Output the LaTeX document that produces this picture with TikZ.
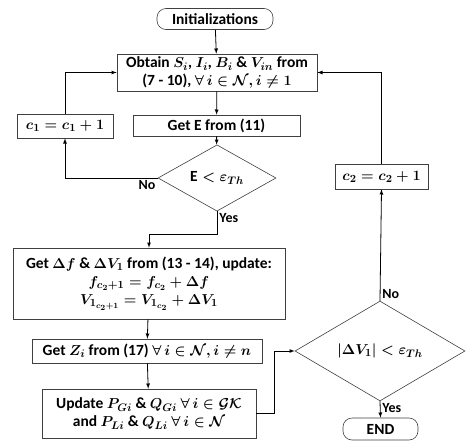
\documentclass[tikz,border=0pt]{standalone}
\usepackage{amsmath,amssymb}
\usepackage{fontspec}
\setmainfont{Carlito}
\usetikzlibrary{shapes,arrows,positioning,calc}

\tikzset{
  procbox/.style={draw=black!75, semithick, fill=white, align=center, inner sep=0.5pt},
  termbox/.style={procbox, rounded corners=9pt},
  testbox/.style={diamond, draw=black!75, semithick, fill=white, inner sep=0pt, align=center},
  flow/.style={->, >=latex, thick},
  lbl/.style={font=\bfseries\fontsize{14}{16}\selectfont, inner sep=2pt}
}

\begin{document}
\begin{tikzpicture}[x=1pt, y=-1pt, font=\bfseries\boldmath\fontsize{15.5}{18}\selectfont]
    \useasboundingbox (0,0) rectangle (466,442);

    % Main column
    \node[termbox, minimum width=116pt, minimum height=21pt] (init) at (215,19) {Initializations};
    \node[procbox, minimum width=200pt, minimum height=37pt] (obtain) at (217,72.5)
        {Obtain $S_i$, $I_i$, $B_i$ \& $V_{in}$ from\\(7 - 10), $\forall\, i \in \mathcal{N}, i \neq 1$};
    \node[procbox, minimum width=167pt, minimum height=21pt] (gete) at (216.5,125.5) {Get E from (11)};
    \node[testbox, minimum width=118pt, minimum height=43pt] (teste) at (217,178) {$\mathrm{E} < \varepsilon_{Th}$};
    \node[procbox, minimum width=96pt, minimum height=24pt] (cone) at (65,126) {$c_1 = c_1 + 1$};

    % Update block
    \node[procbox, minimum width=272pt, minimum height=71pt] (getdf) at (149,283.5)
        {Get $\Delta f$ \& $\Delta V_1$ from (13 - 14), update:\\
         $f_{c_2+1} = f_{c_2} + \Delta f$\\
         $V_{1_{c_2+1}} = V_{1_{c_2}} + \Delta V_1$};
    \node[procbox, minimum width=230pt, minimum height=24pt] (getz) at (147,351)
        {Get $Z_i$ from (17) $\forall\, i \in \mathcal{N}, i \neq n$};
    \node[procbox, minimum width=214pt, minimum height=49pt] (upd) at (149,413.5)
        {Update $P_{Gi}$ \& $Q_{Gi}\ \forall\, i \in \mathcal{GK}$\\
         and $P_{Li}$ \& $Q_{Li}\ \forall\, i \in \mathcal{N}$};

    % Outer loop
    \node[testbox, minimum width=170pt, minimum height=57pt] (testv) at (380,351) {$|\Delta V_1| < \varepsilon_{Th}$};
    \node[procbox, minimum width=93pt, minimum height=25pt] (ctwo) at (381.5,176.5) {$c_2 = c_2 + 1$};
    \node[termbox, minimum width=75pt, minimum height=22pt] (stop) at (380.5,429) {END};

    % Connectors
    \draw[flow] (init) -- (obtain);
    \draw[flow] (obtain) -- (gete);
    \draw[flow] (gete) -- (teste);
    \draw[flow] (teste.west) node[lbl, below left] {No} -| (cone.south);
    \draw[flow] (cone.north) |- (obtain.west);
    \draw[flow] (teste.south) node[lbl, below right] {Yes} -- ++(0,23) -| (getdf.north);
    \draw[flow] (getdf) -- (getz);
    \draw[flow] (getz) -- (upd);
    \draw[flow] (upd.east) -- ++(18,0) |- (testv.west);
    \draw[flow] (testv.south) node[lbl, below right] {Yes} -- (stop.north);
    \draw[flow] (testv.north) node[lbl, above right] {No} -- (ctwo.south);
    \draw[flow] (ctwo.north) |- (obtain.east);
\end{tikzpicture}
\end{document}
